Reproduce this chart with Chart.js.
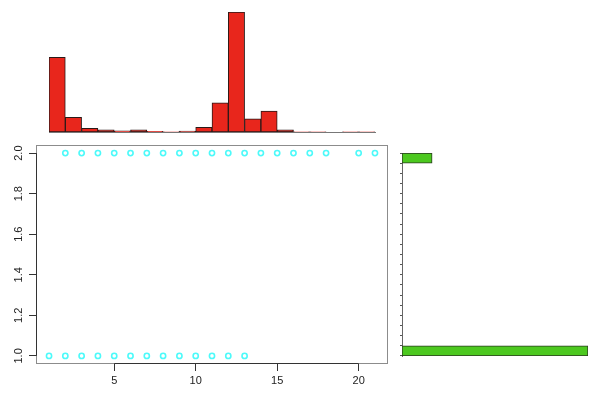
<!DOCTYPE html>
<html>
<head>
<meta charset="utf-8">
<script src="https://cdn.jsdelivr.net/npm/chart.js@4"></script>
<style>
  html, body { margin: 0; padding: 0; background: #fff; }
  #wrap { position: relative; width: 600px; height: 400px; }
  #wrap canvas { position: absolute; left: 0; top: 0; }
</style>
</head>
<body>
<div id="wrap">
  <canvas id="chartTop" width="600" height="400"></canvas>
  <canvas id="chartMain" width="600" height="400"></canvas>
  <canvas id="chartRight" width="600" height="400"></canvas>
</div>
<script>
// ── data ──
const xHigh = [2, 3, 4, 5, 6, 7, 8, 9, 10, 11, 12, 13, 14, 15, 16, 17, 18, 20, 21]  // points at y = 2
const xLow  = [1, 2, 3, 4, 5, 6, 7, 8, 9, 10, 11, 12, 13]                            // points at y = 1
const xTicks = [5, 10, 15, 20]
const yTicks = [1.0, 1.2, 1.4, 1.6, 1.8, 2.0]

// histogram of x, bins of width 1 from 1 to 21
const xBins   = ['1-2','2-3','3-4','4-5','5-6','6-7','7-8','8-9','9-10','10-11','11-12','12-13','13-14','14-15','15-16','16-17','17-18','18-19','19-20','20-21']
const xCounts = [299, 59, 15, 9, 5, 9, 3, 1, 4, 19, 117, 480, 53, 84, 9, 1, 1, 0, 1, 1]

// histogram of y, bins of width 0.05 from 1 to 2
const yBins   = ['1.00','1.05','1.10','1.15','1.20','1.25','1.30','1.35','1.40','1.45','1.50','1.55','1.60','1.65','1.70','1.75','1.80','1.85','1.90','1.95']
const yCounts = [1007, 0, 0, 0, 0, 0, 0, 0, 0, 0, 0, 0, 0, 0, 0, 0, 0, 0, 0, 163]

const FONT = { family: 'Liberation Sans, Arial, sans-serif', size: 11 }

// fixed axis thickness so chart areas land where they should
const fixW = w => s => { s.width = w }
const fixH = h => s => { s.height = h }

// box round the scatter, with darker axis segments between first and last tick
const boxPlugin = {
  id: 'box',
  afterDraw(chart) {
    const { ctx, chartArea: a, scales } = chart
    ctx.save()
    ctx.strokeStyle = '#8c8c8c'
    ctx.lineWidth = 1
    ctx.strokeRect(a.left + 0.5, a.top + 0.5, a.right - a.left - 1, a.bottom - a.top - 1)
    ctx.strokeStyle = '#333'
    const x0 = scales.x.getPixelForValue(xTicks[0]), x1 = scales.x.getPixelForValue(xTicks[xTicks.length - 1])
    const y0 = scales.y.getPixelForValue(yTicks[0]), y1 = scales.y.getPixelForValue(yTicks[yTicks.length - 1])
    ctx.beginPath()
    ctx.moveTo(x0, a.bottom - 0.5); ctx.lineTo(x1, a.bottom - 0.5)
    ctx.moveTo(a.left + 0.5, y0); ctx.lineTo(a.left + 0.5, y1)
    ctx.stroke()
    ctx.restore()
  }
}

// ── main scatter ──
new Chart(document.getElementById('chartMain'), {
  type: 'scatter',
  data: {
    datasets: [
      { data: xHigh.map(x => ({ x, y: 2 })) },
      { data: xLow.map(x => ({ x, y: 1 })) }
    ]
  },
  options: {
    responsive: false, animation: false,
    layout: { padding: { left: 0, right: 212, top: 145, bottom: 0 } },
    plugins: { legend: { display: false }, tooltip: { enabled: false } },
    elements: { point: { radius: 2.6, borderWidth: 1.6, borderColor: '#4dfafa', backgroundColor: 'rgba(0,0,0,0)' } },
    scales: {
      x: {
        type: 'linear', min: 0.2, max: 21.8,
        afterFit: fixH(36),
        afterBuildTicks: s => { s.ticks = xTicks.map(v => ({ value: v })) },
        border: { display: false },
        grid: { drawOnChartArea: false, drawTicks: true, tickLength: 7, color: '#333' },
        ticks: { color: '#222', font: FONT, padding: 3, maxRotation: 0 }
      },
      y: {
        type: 'linear', min: 0.96, max: 2.04,
        afterFit: fixW(36),
        afterBuildTicks: s => { s.ticks = yTicks.map(v => ({ value: v })) },
        border: { display: false },
        grid: { drawOnChartArea: false, drawTicks: true, tickLength: 7, color: '#333' },
        ticks: { color: '#222', font: FONT, padding: 2, minRotation: 90, maxRotation: 90, crossAlign: 'center',
          callback: v => v.toFixed(1) }
      }
    }
  },
  plugins: [boxPlugin]
})

// ── top histogram (x) ──
new Chart(document.getElementById('chartTop'), {
  type: 'bar',
  data: {
    labels: xBins,
    datasets: [{ data: xCounts, backgroundColor: '#e8261c', borderColor: '#2a1a18', borderWidth: 1, borderSkipped: false,
      barPercentage: 1, categoryPercentage: 1 }]
  },
  options: {
    responsive: false, animation: false,
    layout: { padding: { left: 49, right: 225, top: 12, bottom: 268 } },
    plugins: { legend: { display: false }, tooltip: { enabled: false } },
    scales: {
      x: { afterFit: fixH(0), grid: { display: false }, ticks: { display: false }, border: { display: true, color: '#777' } },
      y: { min: 0, max: 480, display: false }
    }
  }
})

// ── right histogram (y) ──
new Chart(document.getElementById('chartRight'), {
  type: 'bar',
  data: {
    labels: yBins,
    datasets: [{ data: yCounts, backgroundColor: '#4cc81f', borderColor: '#2a3a20', borderWidth: 1, borderSkipped: false,
      barPercentage: 1, categoryPercentage: 1 }]
  },
  options: {
    indexAxis: 'y',
    responsive: false, animation: false,
    layout: { padding: { left: 400, right: 12, top: 153, bottom: 44 } },
    plugins: { legend: { display: false }, tooltip: { enabled: false } },
    scales: {
      y: { reverse: true, afterFit: fixW(2),
        grid: { drawOnChartArea: false, drawTicks: true, tickLength: 2, color: '#555' },
        ticks: { display: false }, border: { display: true, color: '#666' } },
      x: { min: 0, max: 1007, display: false }
    }
  }
})
</script>
</body>
</html>
